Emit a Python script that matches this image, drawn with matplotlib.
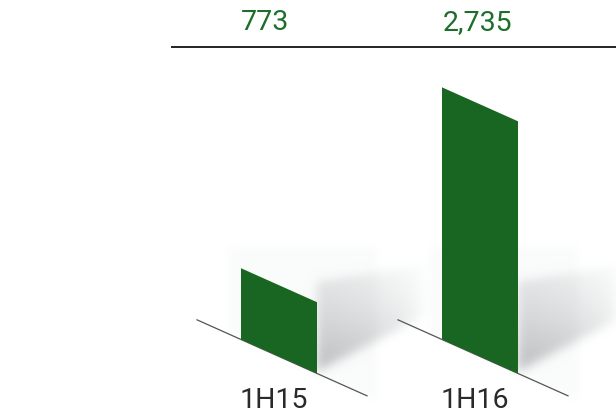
import numpy as np
import matplotlib.pyplot as plt
from matplotlib.patches import Polygon

plt.rcParams['font.family'] = ['Roboto', 'DejaVu Sans']

periods = ['1H15', '1H16']
values = [773, 2735]

GREEN = '#196622'
TEXT_GREEN = '#1d6e2b'
W, H = 616, 413

# pseudo-3D layout in pixel units
px_per_unit = 0.0922
bar_w = 76
skew = 0.447          # slope of the floor line
first_left = 241
spacing = 201
floor_y = 339.5
header_x = [265, 478]


def gauss_blur(img, sigma):
    r = int(3 * sigma)
    k = np.exp(-0.5 * (np.arange(-r, r + 1) / sigma) ** 2)
    k /= k.sum()
    img = np.apply_along_axis(lambda v: np.convolve(v, k, mode='same'), 0, img)
    img = np.apply_along_axis(lambda v: np.convolve(v, k, mode='same'), 1, img)
    return img


fig = plt.figure(figsize=(W / 100, H / 100), dpi=100)
ax = fig.add_axes([0, 0, 1, 1])
ax.axis('off')

yy, xx = np.mgrid[0:H, 0:W] + 0.5
shade = np.zeros((H, W))
haze = np.zeros((H, W))

for i, (lab, val) in enumerate(zip(periods, values)):
    left = first_left + i * spacing
    right = left + bar_w
    drop = bar_w * skew
    h = val * px_per_unit
    y_bl = floor_y
    y_br = floor_y + drop

    # floor line under the bar
    x0, x1 = left - 44, right + 50
    ax.plot([x0, x1], [y_bl - 44 * skew, y_br + 50 * skew],
            color='#555555', lw=0.9, zorder=2)

    # soft shadow thrown up and to the right of the bar
    dx = xx - right
    y_low = y_br - 0.52 * dx - 2
    y_up = y_br - 92 - 0.15 * dx
    inside = (dx >= 0) & (dx <= 110) & (yy >= y_up) & (yy <= y_low)
    t = np.clip((y_low - yy) / (y_low - y_up), 0, 1)
    fade = np.clip(1 - dx / 110, 0, 1)
    shade += inside * fade ** 0.7 * (0.4 + 0.6 * (1 - t) ** 1.3)

    # faint backdrop around the foot of the bar
    haze += ((xx >= left - 12) & (xx <= right + 60) &
             (yy >= y_bl - 92) & (yy <= y_bl + (xx - left) * skew))

    bar = Polygon([(left, y_bl), (left, y_bl - h), (right, y_br - h), (right, y_br)],
                  closed=True, facecolor=GREEN, edgecolor='none', zorder=3)
    ax.add_patch(bar)

    ax.text(left + bar_w / 2 - 5, 401, lab, ha='center', va='center',
            fontsize=20.5, color='#2a2a2a', zorder=4)
    ax.text(header_x[i], 23, f'{val:,}', ha='center', va='center',
            fontsize=20.5, color=TEXT_GREEN, zorder=4)

shade = gauss_blur(shade, 5)
haze = gauss_blur(haze, 4)
rgba = np.zeros((H, W, 4))
rgba[..., :3] = [0.50, 0.51, 0.53]
rgba[..., 3] = np.clip(np.clip(shade, 0, 1) * 0.5 + haze * 0.035, 0, 1)
ax.imshow(rgba, extent=(0, W, H, 0), zorder=1, interpolation='bilinear')
ax.set_xlim(0, W)
ax.set_ylim(H, 0)
ax.set_aspect('auto')

ax.plot([172, W], [47, 47], color='#222222', lw=1.4, zorder=2)

fig.savefig('out.png', dpi=100)
